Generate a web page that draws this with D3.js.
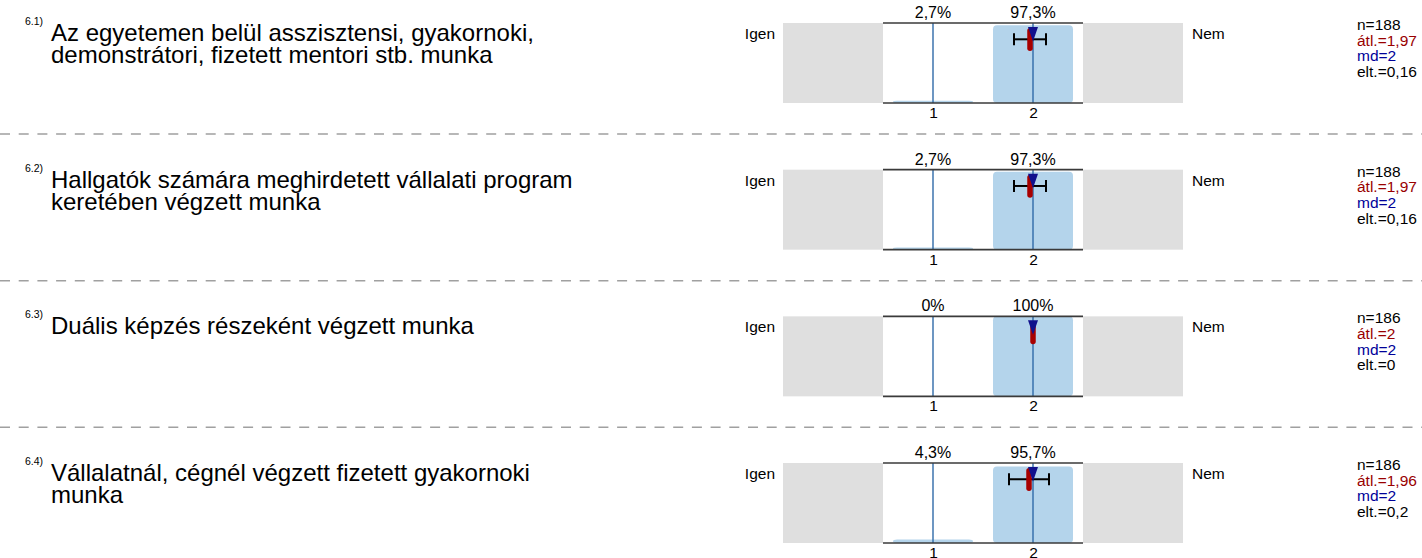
<!DOCTYPE html>
<html>
<head>
<meta charset="utf-8">
<script src="https://cdn.jsdelivr.net/npm/d3@7"></script>
<style>
  html, body { margin: 0; padding: 0; background: #fff; }
  svg { display: block; font-family: "Liberation Sans", Arial, sans-serif; }
</style>
</head>
<body>
<svg id="chart" width="1422" height="558"></svg>
<script>
// Item numbers and question texts (already broken into lines)
const itemIds = ["6.1)", "6.2)", "6.3)", "6.4)"];
const itemLines = [
  ["Az egyetemen belül asszisztensi, gyakornoki,", "demonstrátori, fizetett mentori stb. munka"],
  ["Hallgatók számára meghirdetett vállalati program", "keretében végzett munka"],
  ["Duális képzés részeként végzett munka"],
  ["Vállalatnál, cégnél végzett fizetett gyakornoki", "munka"]
];

// Answer scale
const categories = [1, 2];
const leftLabel = "Igen";
const rightLabel = "Nem";

// Percentage of answers per category (per item)
const pctCat1 = [2.7, 2.7, 0, 4.3];
const pctCat2 = [97.3, 97.3, 100, 95.7];

// Summary statistics per item
const nValues = [188, 188, 186, 186];
const meanValues = [1.97, 1.97, 2, 1.96];
const medianValues = [2, 2, 2, 2];
const sdValues = [0.16, 0.16, 0, 0.2];

const svg = d3.select("#chart");
const fmt = v => String(v).replace(".", ",");

const W = 1422;
const panelH = 80;
const pitch = 146.67;
const yPanel = d3.scaleLinear().domain([0, 1]).range([23, 23 + pitch]);
const x = d3.scaleLinear().domain([0.5, 2.5]).range([883, 1083]);
const y = d3.scaleLinear().domain([0, 100]).range([panelH, 0]);
const barW = 80;

itemIds.forEach((id, i) => {
  const top = yPanel(i);
  const g = svg.append("g").attr("transform", `translate(0,${top})`);
  const pcts = [pctCat1[i], pctCat2[i]];

  // question number + text
  g.append("text").attr("x", 25).attr("y", 2)
    .attr("font-size", 10.5).attr("fill", "#000").text(id);
  itemLines[i].forEach((line, k) => {
    g.append("text").attr("x", 51).attr("y", 18 + k * 22)
      .attr("font-size", 24).attr("fill", "#000").text(line);
  });

  // grey background band spanning the scale
  g.append("rect")
    .attr("x", x(-0.5)).attr("y", 0)
    .attr("width", x(3.5) - x(-0.5)).attr("height", panelH)
    .attr("fill", "#dfdfdf");
  // white answer area
  g.append("rect")
    .attr("x", x(0.5)).attr("y", 0)
    .attr("width", x(2.5) - x(0.5)).attr("height", panelH)
    .attr("fill", "#fff");

  // bars
  g.selectAll("rect.bar").data(categories.map((c, k) => ({ c, p: pcts[k] })).filter(d => d.p > 0))
    .enter().append("rect").attr("class", "bar")
    .attr("x", d => x(d.c) - barW / 2)
    .attr("y", d => y(d.p))
    .attr("width", barW)
    .attr("height", d => panelH - y(d.p))
    .attr("rx", 4)
    .attr("ry", d => Math.min(4, (panelH - y(d.p)) / 2))
    .attr("fill", "#b4d4eb");

  // category reference lines
  categories.forEach(c => {
    g.append("line")
      .attr("x1", x(c)).attr("x2", x(c))
      .attr("y1", 0).attr("y2", panelH)
      .attr("stroke", "#2f6aa8").attr("stroke-width", 1.4);
  });

  // frame lines above and below answer area
  [0, panelH].forEach(yy => {
    g.append("line")
      .attr("x1", x(0.5)).attr("x2", x(2.5))
      .attr("y1", yy).attr("y2", yy)
      .attr("stroke", "#3a3a3a").attr("stroke-width", 1.6);
  });

  // percentages above
  categories.forEach((c, k) => {
    g.append("text").attr("x", x(c)).attr("y", -5)
      .attr("text-anchor", "middle").attr("font-size", 16)
      .text(fmt(pcts[k]) + "%");
  });

  // axis tick labels
  const axis = d3.axisBottom(x).tickValues(categories).tickFormat(d3.format("d"))
    .tickSize(0).tickPadding(4);
  const ax = g.append("g").attr("transform", `translate(0,${panelH})`).call(axis);
  ax.select(".domain").remove();
  ax.selectAll("text").attr("font-size", 15.5).attr("fill", "#000")
    .attr("font-family", "Liberation Sans, Arial, sans-serif");

  // pole labels
  g.append("text").attr("x", 775).attr("y", 16)
    .attr("text-anchor", "end").attr("font-size", 15.5).text(leftLabel);
  g.append("text").attr("x", 1192).attr("y", 16)
    .attr("font-size", 15.5).text(rightLabel);

  // standard deviation whisker
  const m = meanValues[i], sd = sdValues[i];
  const ey = 16.3;
  if (sd > 0) {
    g.append("line").attr("x1", x(m - sd)).attr("x2", x(m + sd))
      .attr("y1", ey).attr("y2", ey).attr("stroke", "#000").attr("stroke-width", 2);
    [m - sd, m + sd].forEach(v => {
      g.append("line").attr("x1", x(v)).attr("x2", x(v))
        .attr("y1", ey - 6).attr("y2", ey + 6)
        .attr("stroke", "#000").attr("stroke-width", 2);
    });
  }

  // mean marker
  g.append("rect")
    .attr("x", x(m) - 2.75).attr("y", 5)
    .attr("width", 5.5).attr("height", 23)
    .attr("rx", 2.75)
    .attr("fill", "#a80000");

  // median marker
  const md = x(medianValues[i]);
  g.append("path")
    .attr("d", `M${md - 5},4 L${md + 5},4 L${md},18.5 Z`)
    .attr("fill", "#10108c");

  // statistics
  const stats = [
    { t: "n=" + nValues[i], c: "#000" },
    { t: "átl.=" + fmt(m), c: "#990000" },
    { t: "md=" + fmt(medianValues[i]), c: "#000099" },
    { t: "elt.=" + fmt(sd), c: "#000" }
  ];
  stats.forEach((s, k) => {
    g.append("text").attr("x", 1357).attr("y", 7 + k * 15.7)
      .attr("font-size", 15.5).attr("fill", s.c).text(s.t);
  });

  // dashed separator
  if (i < itemIds.length - 1) {
    g.append("line").attr("x1", 0).attr("x2", W)
      .attr("y1", 111).attr("y2", 111)
      .attr("stroke", "#a0a0a0").attr("stroke-width", 1.5)
      .attr("stroke-dasharray", "10,8.7");
  }
});
</script>
</body>
</html>
